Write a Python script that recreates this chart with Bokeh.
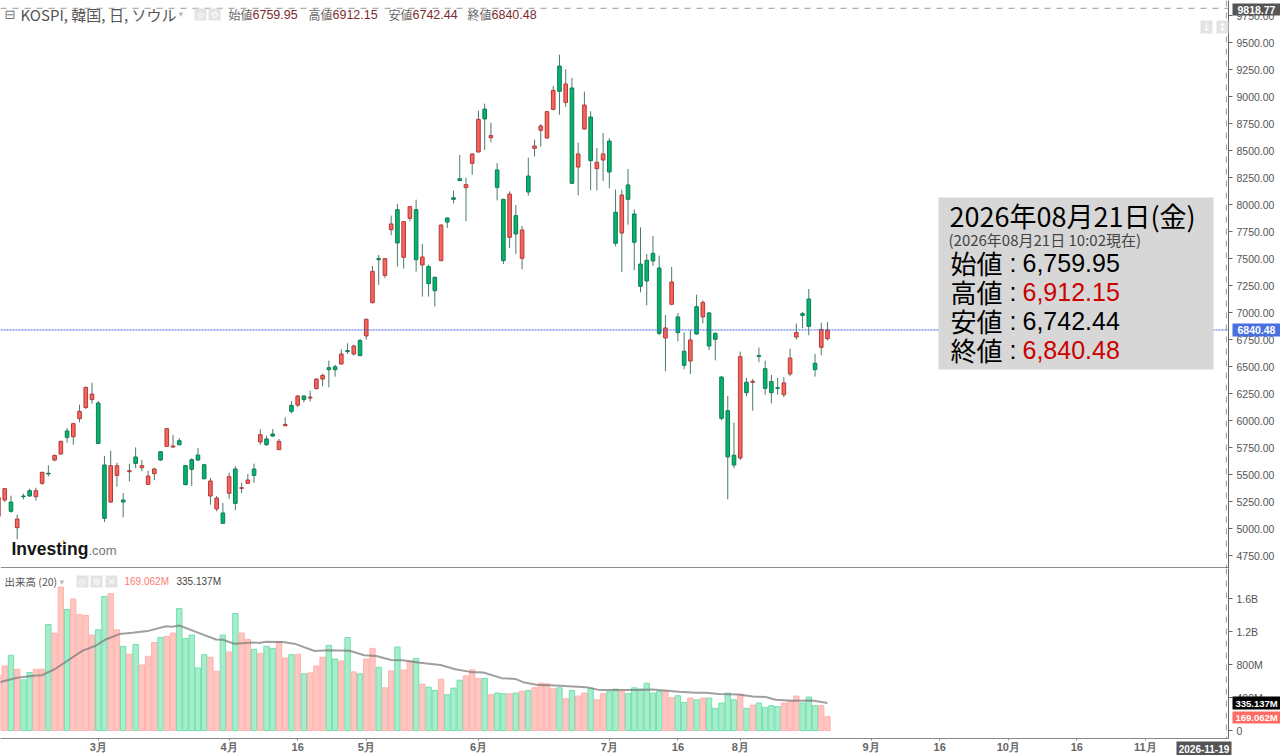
from bokeh.plotting import figure
from bokeh.layouts import column
from bokeh.models import (Range1d, LinearAxis, FixedTicker, Label, Span, BoxAnnotation,
                          NumeralTickFormatter, ColumnDataSource)
from bokeh.embed import file_html
from bokeh.resources import INLINE

# ---------- data ----------
open_ = [5115,5266,5247,5010,5303,5352,5297,5420,5513,5636,5692,5905,5852,6019,6121,6195,6164,5590,5247,5494,
         5266,5528,5664,5565,5411,5510,5713,5763,5757,5815,5584,5639,5682,5593,5303,5183,5146,5328,5553,5374,
         5420,5553,5803,5831,5877,5732,5954,6142,6145,6229,6210,6297,6386,6491,6500,6525,6649,6618,6742,6785,
         7093,7501,7346,7769,7954,7513,7874,7954,7442,7427,7328,7482,7877,8065,8241,8158,8383,8488,8886,8621,
         8322,8050,7698,7899,7504,8266,8522,8689,8618,8883,9284,8948,9081,8349,8701,8812,8334,8414,8590,7930,
         7738,8183,7914,7451,7485,7550,7414,6766,7078,6961,6643,6553,7056,6961,6998,6809,6405,6093,5680,5655,
         6356,6356,6603,6482,6362,6306,6242,6433,6775,6991,7127,6532,6680,6759.95]
high_ = [5300,5377,5306,5130,5325,5371,5380,5528,5587,5686,5815,5932,5979,6148,6315,6352,6182,5673,5723,5611,
         5331,5602,5753,5636,5537,5565,5720,5932,5868,5840,5590,5652,5747,5599,5470,5303,5238,5519,5578,5426,
         5507,5602,5920,5861,5923,5831,6031,6182,6235,6235,6278,6392,6436,6556,6519,6661,6717,6705,6757,6945,
         7433,7535,7507,7899,8007,7849,7988,8047,7637,7445,7334,7819,7883,8130,8461,8251,8476,8871,8936,8760,
         8386,8056,8124,7998,7803,8436,8602,8747,8865,9099,9389,9254,9173,8575,9047,8865,8525,8664,8615,8140,
         8140,8331,7957,7791,7544,7711,7529,6979,7424,6998,6819,6840,7167,7115,7004,6816,6411,6229,5982,6640,
         6396,6387,6677,6556,6424,6396,6405,6667,6899,7007,7220,6618,6908,6912.15]
low_ = [5100,5247,5149,4902,5272,5297,5260,5408,5485,5624,5686,5797,5778,5985,6111,6158,5784,5062,5241,5389,
        5105,5439,5562,5531,5405,5451,5630,5760,5747,5772,5402,5396,5630,5457,5223,5161,5050,5278,5173,5328,
        5414,5426,5778,5766,5852,5729,5948,6068,6127,6170,6179,6290,6318,6309,6408,6522,6618,6603,6597,6751,
        7087,7257,7322,7717,7427,7408,7846,7380,7149,7149,7059,7479,7785,8013,8220,7846,8278,8485,8507,8578,
        8041,7451,7599,7544,7402,8084,8448,8538,8612,8874,8834,8905,8195,8087,8695,8133,8133,8220,8152,7615,
        7377,7815,7393,7189,7069,7433,6791,6458,7075,6735,6476,6433,6797,6902,6655,6559,6004,5273,5560,5637,
        6226,6093,6541,6242,6161,6242,6217,6414,6751,6856,6791,6408,6606,6742.44]
close_ = [5291,5371,5161,5090,5297,5303,5352,5522,5507,5679,5809,5846,5973,6087,6309,6247,5790,5096,5584,5584,
          5247,5537,5605,5584,5488,5553,5636,5926,5766,5778,5408,5550,5636,5463,5442,5284,5050,5482,5235,5380,
          5451,5494,5871,5778,5858,5809,5966,6087,6229,6195,6219,6386,6420,6473,6473,6618,6640,6692,6603,6939,
          7383,7491,7501,7822,7646,7843,7982,7491,7516,7269,7204,7812,7840,8050,8223,8186,8470,8791,8794,8640,
          8161,7482,8099,7729,7766,8118,8544,8729,8862,9059,9050,9118,8198,8470,8923,8408,8393,8470,8303,7643,
          8090,8050,7652,7245,7294,7479,6809,6859,7285,6816,6513,6748,6803,7096,6692,6754,6022,5665,5590,6593,
          6260,6365,6596,6300,6260,6300,6350,6581,6816,6976,6874,6473,6846,6840.48]
volume = [675,783,912,743,614,703,743,743,1285,1181,1739,1466,1594,1406,1394,1157,1221,1626,1659,1221,
          1020,924,1044,795,900,1068,1128,1141,1181,1478,1116,1157,759,920,888,719,1157,952,1418,1181,
          1104,984,936,1020,996,1076,880,920,924,687,699,783,888,1032,867,843,1128,711,687,867,
          996,767,518,723,1012,735,843,875,562,526,486,622,434,514,610,663,735,631,631,434,
          454,446,446,454,478,486,518,574,566,506,518,386,486,418,454,514,373,446,470,502,
          474,446,518,502,574,454,474,482,398,422,341,394,373,394,394,269,333,454,373,434,
          269,309,333,281,301,289,333,357,418,333,406,301,301,169.062]
ma_idx = [0,3,6,7,9,11,13.5,15.6,17.2,19.4,21.5,23.9,26.9,27.9,29,32.2,34.9,36,37.8,40.8,41.8,42.9,45.6,47.7,
          50.7,52.8,56.3,58.7,60.6,63,64.9,67.6,70.9,73.3,75.7,77.8,80.7,82.9,84.2,86.3,90.1,94.3,96.5,101.8,105,
          109.2,111.9,113.5,115.6,118.8,121,123.1,124.7,127.4,130.5,133]
ma_val = [582,639,667,671,743,843,968,1028,1104,1169,1185,1205,1265,1257,1273,1181,1104,1100,1052,1068,1060,1076,
          1072,1048,964,972,968,912,904,855,851,821,795,743,711,703,635,626,586,554,542,526,490,490,498,470,458,458,
          442,438,414,406,373,361,365,335.137]
date_ticks = [16,37,48,59,77,98,109,119,140,151,162,173,184]
date_labels = ["3月","4月","16","5月","6月","7月","16","8月","9月","16","10月","16","11月"]
price_ticks = [4750,5000,5250,5500,5750,6000,6250,6500,6750,7000,7250,7500,7750,8000,8250,8500,8750,9000,9250,9500,9750]
vol_ticks = [0,400,800,1200,1600]
vol_labels = ["0","400M","800M","1.2B","1.6B"]
last_price = 6840.48
cross_price = 9818.77
cross_idx = 197

# ---------- layout constants ----------
W, PLOT_W = 1280, 1228
H1, H2 = 568, 187
FRAME2 = 171
STEP, X0 = 6.233, -2.0
PPU = 0.108
Y_TOP = 9891.0
VPPM = 33.2 / 400
V_TOP = (731 - 568) / VPPM

def px(x):  return (x - X0) / STEP
def py(y):  return Y_TOP - y / PPU
def vy(y):  return (731 - y) / VPPM

SANS = "Liberation Sans"
CJK = "Noto Sans CJK JP"
x_range = Range1d(px(0), px(PLOT_W))

def right_axis(p, ticks, overrides=None):
    ax = LinearAxis(ticker=FixedTicker(ticks=ticks), axis_line_color="#666666", major_tick_line_color="#666666",
                    major_tick_in=0, major_tick_out=4, minor_tick_line_color=None,
                    major_label_text_color="#555555", major_label_text_font=SANS,
                    major_label_text_font_size="10.5px", major_label_standoff=4)
    if overrides:
        ax.major_label_overrides = overrides
    else:
        ax.formatter = NumeralTickFormatter(format="0.00")
    p.add_layout(ax, "right")

# ---------- price pane ----------
p1 = figure(width=W, height=H1, x_range=x_range, y_range=Range1d(py(568), py(0)), output_backend="svg",
            toolbar_location=None, min_border_left=0, min_border_top=0, min_border_bottom=0, min_border_right=52,
            outline_line_color=None, background_fill_color="white", border_fill_color="white",
            y_axis_location=None, x_axis_location=None)
p1.grid.visible = False
right_axis(p1, price_ticks)
idx = list(range(len(open_)))
up = [c >= o for o, c in zip(open_, close_)]
src = ColumnDataSource(dict(
    x=idx, top=[max(o, c) for o, c in zip(open_, close_)], bottom=[min(o, c) for o, c in zip(open_, close_)],
    hi=high_, lo=low_,
    fill=["#f8635a" if u else "#00b56d" for u in up], edge=["#b03a3a" if u else "#127a52" for u in up]))
p1.segment("x", "hi", "x", "lo", source=src, line_color="#4c7a68", line_width=1)
p1.vbar("x", 0.58, "bottom", "top", source=src, fill_color="fill", line_color="edge", line_width=1)
p1.add_layout(Span(location=last_price, dimension="width", line_color="#3a5fe0", line_width=1, line_dash="2 1"))
p1.add_layout(Span(location=cross_price, dimension="width", line_color="#9a9a9a", line_width=1, line_dash="6 6"))
p1.add_layout(Span(location=cross_idx, dimension="height", line_color="#9a9a9a", line_width=1, line_dash="6 6"))
p1.add_layout(Span(location=py(567.5), dimension="width", line_color="#666666", line_width=1.5))

# ---------- volume pane ----------
p2 = figure(width=W, height=H2, x_range=x_range, y_range=Range1d(vy(568 + FRAME2), V_TOP), output_backend="svg",
            toolbar_location=None, min_border_left=0, min_border_top=0, min_border_bottom=16, min_border_right=52,
            outline_line_color=None, border_fill_color="white", y_axis_location=None, x_axis_location=None)
p2.grid.visible = False
right_axis(p2, vol_ticks, dict(zip(vol_ticks, vol_labels)))
bottom_ax = LinearAxis(ticker=FixedTicker(ticks=date_ticks), axis_line_color="#888888", major_tick_line_color="#888888",
                       major_tick_in=0, major_tick_out=2, minor_tick_line_color=None,
                       major_label_overrides=dict(zip(date_ticks, date_labels)), major_label_text_color="#666666",
                       major_label_text_font=SANS, major_label_text_font_size="11px", major_label_text_font_style="bold",
                       major_label_standoff=0)
p2.add_layout(bottom_ax, "below")
vsrc = ColumnDataSource(dict(x=idx, top=volume,
                             fill=["#ffc5c1" if u else "#a5edcb" for u in up],
                             edge=["#ffb3ae" if u else "#74dfae" for u in up]))
p2.vbar("x", 0.86, 0, "top", source=vsrc, fill_color="fill", line_color="edge", line_width=1)
p2.line(ma_idx, ma_val, line_color="#777777", line_width=2, line_alpha=0.7)
p2.add_layout(Span(location=cross_idx, dimension="height", line_color="#9a9a9a", line_width=1, line_dash="6 6"))

# ---------- transparent sheet over the whole page for texts and panels ----------
ov = figure(width=1280, height=755, x_range=Range1d(0, 1280), y_range=Range1d(755, 0), output_backend="svg",
            toolbar_location=None, min_border=0, outline_line_color=None, background_fill_color=None,
            border_fill_color=None, y_axis_location=None, x_axis_location=None,
            styles={"position": "absolute", "left": "0px", "top": "0px"})
ov.grid.visible = False

def lab(x, y, text, color="#555555", size=12, font=SANS, align="left", style="normal"):
    ov.add_layout(Label(x=x, y=y, text=text, text_color=color, text_font_size=f"{size}px", text_font=font,
                        text_align=align, text_baseline="middle", text_font_style=style, level="overlay"))

def box(l, r, t, b, color):
    ov.add_layout(BoxAnnotation(left=l, right=r, top=t, bottom=b, fill_color=color, fill_alpha=1.0,
                                line_color=None, level="overlay"))

# header
lab(4, 14, "⊟", "#777777", 13, "DejaVu Sans")
lab(20, 14, "KOSPI, 韓国, 日, ソウル", "#555555", 15, CJK)
lab(178, 13, "▾", "#bbbbbb", 9, "DejaVu Sans")
box(194, 206, 8, 20, "#e3e3e3")
box(208, 220, 8, 20, "#e3e3e3")
lab(200, 14, "◎", "#ffffff", 9, "DejaVu Sans", "center")
lab(214, 14, "⚙", "#ffffff", 9, "DejaVu Sans", "center")
for x0, key, x1, val in [(228, "始値", 252, "6759.95"), (308, "高値", 332, "6912.15"),
                         (388, "安値", 412, "6742.44"), (467, "終値", 491, "6840.48")]:
    lab(x0, 14, key, "#666666", 12, CJK)
    lab(x1, 14, val, "#7b2b2b", 12.5, SANS)

# top-right buttons
box(1200, 1212, 20, 33, "#e3e3e3")
box(1216, 1228, 20, 33, "#e3e3e3")
lab(1206, 27, "↓", "#ffffff", 11, "DejaVu Sans", "center")
lab(1222, 27, "↕", "#ffffff", 11, "DejaVu Sans", "center")

# logo
lab(11, 548, "Investing", "#161616", 17.5, SANS, style="bold")
lab(62, 540, "•", "#f0a020", 7, SANS)
lab(88, 550, ".com", "#777777", 13, SANS)

# info panel
box(938, 1213, 197, 369, "#d7d7d7")
lab(949, 215, "2026年08月21日(金)", "#000000", 27, CJK)
lab(948, 239, "(2026年08月21日 10:02現在)", "#444444", 15, CJK)
for y, key, val, col in [(262, "始値", "6,759.95", "#000000"), (291, "高値", "6,912.15", "#cc0000"),
                         (320, "安値", "6,742.44", "#000000"), (349, "終値", "6,840.48", "#cc0000")]:
    lab(950, y, key, "#000000", 26, CJK)
    lab(1009, y, ":", "#000000", 25, SANS)
    lab(1022, y, val, col, 25, SANS)

# price axis flags
box(1232, 1280, 3, 15, "#555555")
lab(1237, 9.5, "9818.77", "#ffffff", 10.5, SANS, "left", "bold")
box(1232, 1280, 323, 336, "#4a6fe0")
lab(1237, 329.5, "6840.48", "#ffffff", 10.5, SANS, "left", "bold")

# volume header
lab(4, 581, "出来高 (20)", "#555555", 10.5, CJK)
lab(59, 581, "▾", "#bbbbbb", 9, "DejaVu Sans")
for l, ch in [(76, "◎"), (90, "⚙"), (105, "✕")]:
    box(l, l + 12, 575, 587, "#e3e3e3")
    lab(l + 6, 581, ch, "#ffffff", 9, "DejaVu Sans", "center")
lab(124, 581, "169.062M", "#ff7a70", 10, SANS)
lab(176, 581, "335.137M", "#444444", 10, SANS)

# volume axis flags and crosshair date
box(1232, 1280, 696, 709, "#000000")
lab(1235, 703, "335.137M", "#ffffff", 9.5, SANS, "left", "bold")
box(1232, 1280, 711, 723, "#ff6a62")
lab(1235, 717, "169.062M", "#ffffff", 9.5, SANS, "left", "bold")
box(1176, 1231, 741, 755, "#555555")
lab(1203.5, 748, "2026-11-19", "#ffffff", 10, SANS, "center", "bold")

layout = column(p1, p2, spacing=0, styles={"position": "absolute", "left": "0px", "top": "0px"})
open("out.html", "w").write(file_html([layout, ov], INLINE))
